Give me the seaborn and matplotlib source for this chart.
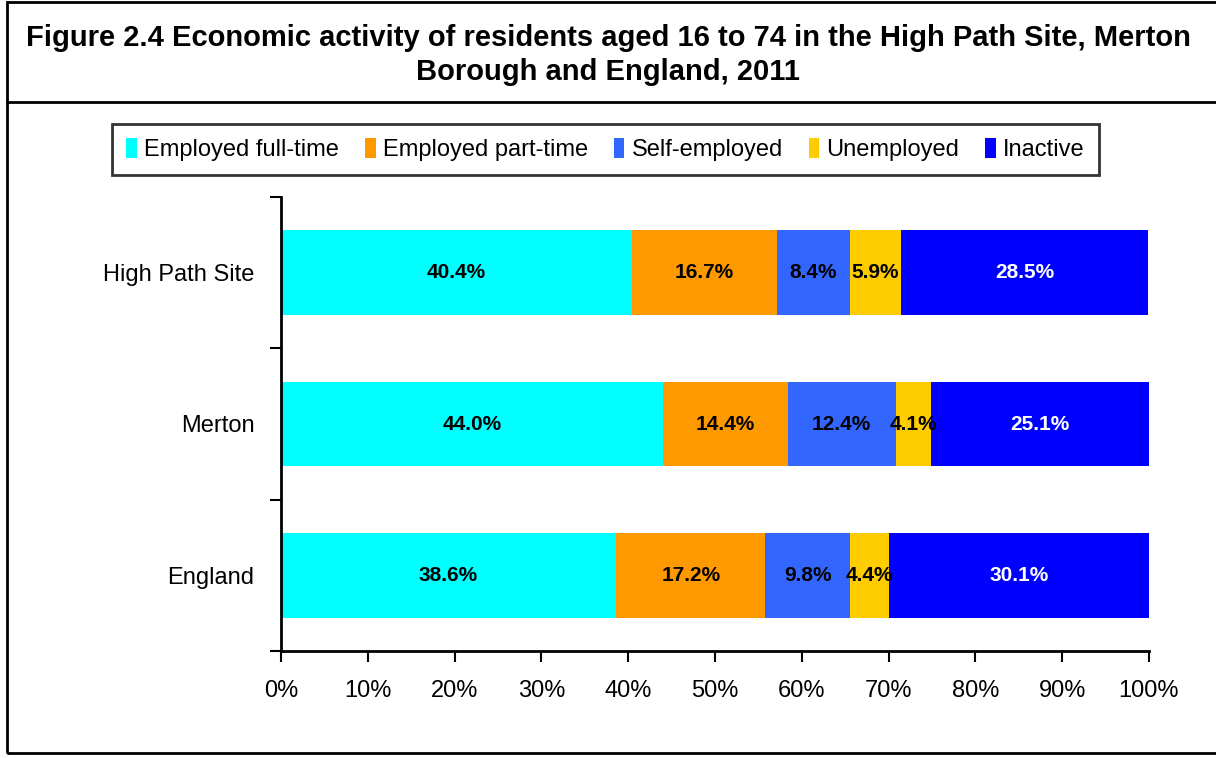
import numpy as np
import pandas as pd
import matplotlib
matplotlib.use("Agg")
import matplotlib.pyplot as plt
from matplotlib.patches import Rectangle, Patch
from matplotlib.lines import Line2D
import seaborn as sns

# Datos del gráfico
areas = ["High Path Site", "Merton", "England"]
categorias = ["Employed full-time", "Employed part-time", "Self-employed",
              "Unemployed", "Inactive"]
full_time = [40.4, 44.0, 38.6]
part_time = [16.7, 14.4, 17.2]
self_emp = [8.4, 12.4, 9.8]
unemployed = [5.9, 4.1, 4.4]
inactive = [28.5, 25.1, 30.1]
x_ticks = [0, 10, 20, 30, 40, 50, 60, 70, 80, 90, 100]

colores = ["#00FFFF", "#FF9900", "#3366FF", "#FFCC00", "#0000FF"]
color_texto = ["black", "black", "black", "black", "white"]

sns.set_style("white")
plt.rcParams["font.family"] = ["Liberation Sans", "DejaVu Sans"]
plt.rcParams["text.color"] = "black"
plt.rcParams["xtick.color"] = "black"
plt.rcParams["ytick.color"] = "black"

df = pd.DataFrame({"area": areas, categorias[0]: full_time, categorias[1]: part_time,
                   categorias[2]: self_emp, categorias[3]: unemployed,
                   categorias[4]: inactive})
acum = df[categorias].cumsum(axis=1)

fig = plt.figure(figsize=(12.16, 7.58), dpi=100)
ax = fig.add_axes([281 / 1216, 1 - 651 / 758, 868 / 1216, 454 / 758])

# barras apiladas: se dibujan los acumulados de mayor a menor
for cat, col in reversed(list(zip(categorias, colores))):
    sns.barplot(x=acum[cat], y=df["area"], orient="h", color=col,
                width=0.56, saturation=1, linewidth=0, ax=ax)

# etiquetas de valores
for cat, tc in zip(categorias, color_texto):
    centros = acum[cat] - df[cat] / 2
    for i, (c, v) in enumerate(zip(centros, df[cat])):
        ax.text(c, i, f"{v:.1f}%", ha="center", va="center",
                fontsize=15, fontweight="bold", color=tc)

ax.set_xlim(0, 100)
ax.set_ylim(2.5, -0.5)
ax.set_xticks(x_ticks)
ax.set_xticklabels([f"{t}%" for t in x_ticks], fontsize=17)
ax.set_yticks(range(len(areas)))
ax.set_yticklabels(areas, fontsize=17)
ax.set_yticks([-0.5, 0.5, 1.5, 2.5], minor=True)
ax.tick_params(axis="y", which="major", length=0, pad=19)
ax.tick_params(axis="y", which="minor", length=8, width=1.5, direction="out", left=True)
ax.tick_params(axis="x", length=8, width=1.5, direction="out", bottom=True, pad=13)
ax.set_xlabel("")
ax.set_ylabel("")
sns.despine(ax=ax)
for s in ["left", "bottom"]:
    ax.spines[s].set_linewidth(2)
    ax.spines[s].set_color("black")

# leyenda en caja
handles = [Patch(facecolor=c, edgecolor="none") for c in colores]
leg = fig.legend(handles, categorias, loc="center",
                 bbox_to_anchor=(605.5 / 1216, 1 - 149.5 / 758), ncol=5,
                 fontsize=17, frameon=True, fancybox=False, handlelength=0.45,
                 handleheight=0.9, handletextpad=0.3, columnspacing=1.1,
                 borderpad=0.6, borderaxespad=0)
leg.get_frame().set_edgecolor("black")
leg.get_frame().set_linewidth(2)

# título y marcos
fig.text(0.5, 1 - 55 / 758,
         "Figure 2.4 Economic activity of residents aged 16 to 74 in the High Path Site, Merton\nBorough and England, 2011",
         ha="center", va="center", fontsize=21, fontweight="bold", linespacing=1.25)
fig.add_artist(Rectangle((6.5 / 1216, 1 - 753 / 758), 1.1, 751 / 758,
                         transform=fig.transFigure, fill=False,
                         edgecolor="black", linewidth=2, clip_on=False))
fig.add_artist(Line2D([6.5 / 1216, 1], [1 - 102 / 758, 1 - 102 / 758],
                      transform=fig.transFigure, color="black", linewidth=2))

fig.savefig("out.png", dpi=100)
